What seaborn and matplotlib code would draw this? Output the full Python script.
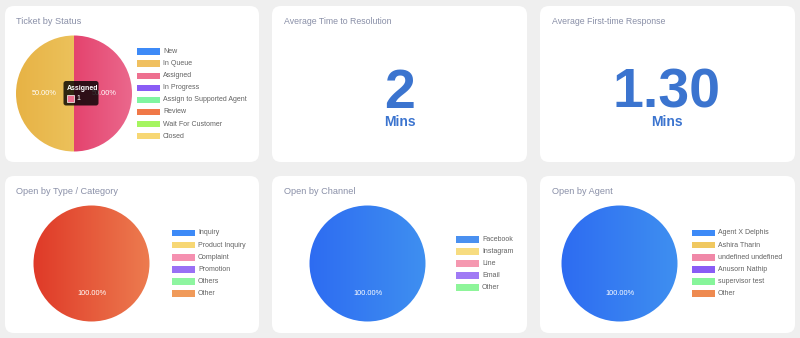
import numpy as np
import matplotlib
matplotlib.use("Agg")
import matplotlib.pyplot as plt
import seaborn as sns
from matplotlib.patches import FancyBboxPatch, Rectangle
from matplotlib.colors import LinearSegmentedColormap

# ---------------- data ----------------
status_labels = ["New", "In Queue", "Assigned", "In Progress", "Assign to Supported Agent",
                 "Review", "Wait For Customer", "Closed"]
status_values = [0, 1, 1, 0, 0, 0, 0, 0]

type_labels = ["Inquiry", "Product Inquiry", "Complaint", "Promotion", "Others", "Other"]
type_values = [0, 0, 0, 0, 0, 1]

channel_labels = ["Facebook", "Instagram", "Line", "Email", "Other"]
channel_values = [1, 0, 0, 0, 0]

agent_labels = ["Agent X Delphis", "Ashira Tharin", "undefined undefined", "Anusorn Nathip",
                "supervisor test", "Other"]
agent_values = [1, 0, 0, 0, 0, 0]

resolution_value = "2"
first_response_value = "1.30"
unit_label = "Mins"

tooltip_title = "Assigned"
tooltip_value = "1"

# ---------------- styles ----------------
status_colors = ["#3d8af7", "#f0c060", "#ee7090", "#8a5cf5", "#80f5a0", "#f07848", "#a5f560", "#f7d774"]
type_colors = ["#3d8af7", "#f7d774", "#f590b0", "#9a70f5", "#8ef5a0", "#f09a5a"]
channel_colors = ["#4a90f0", "#f7dc80", "#f598b0", "#a07af5", "#8ef59a"]
agent_colors = ["#3d8af7", "#f0c860", "#f088a8", "#8a5cf5", "#86f59a", "#ee8a50"]

# gradient (left colour, right colour) per non-empty slice
status_grad = {1: ("#e7b244", "#ecc25c"), 2: ("#e4426d", "#eb6a8e")}
type_grad = {5: ("#df3827", "#ed7d50")}
channel_grad = {0: ("#2d6bf2", "#3f90f0")}
agent_grad = {0: ("#2d6bf2", "#3f90f0")}

sns.set_theme(style="white")
plt.rcParams['font.family'] = ['Liberation Sans', 'DejaVu Sans']

W, H = 800, 338
fig = plt.figure(figsize=(8, 3.38), dpi=100)
fig.patch.set_facecolor("#efefef")

bg = fig.add_axes([0, 0, 1, 1])
bg.set_xlim(0, W)
bg.set_ylim(H, 0)
bg.axis("off")

TITLE_C = "#8a90a8"
LEG_C = "#626262"
BIG_C = "#3b74cf"

cards = [(5, 6, 254, 156), (272, 6, 255, 156), (540, 6, 255, 156),
         (5, 176, 254, 157), (272, 176, 255, 157), (540, 176, 255, 157)]
for (x, y, w, h) in cards:
    bg.add_patch(FancyBboxPatch((x, y), w, h, boxstyle="round,pad=0,rounding_size=9",
                                facecolor="white", edgecolor="none"))

titles = [(16, 22, "Ticket by Status", 6.6), (284, 22, "Average Time to Resolution", 6.3),
          (552, 22, "Average First-time Response", 6.3), (16, 192, "Open by Type / Category", 6.6),
          (284, 192, "Open by Channel", 6.6), (552, 192, "Open by Agent", 6.6)]
for (x, y, t, fs) in titles:
    bg.text(x, y, t, fontsize=fs, color=TITLE_C, ha="left", va="center")

# big numbers
for cx, val in [(400, resolution_value), (667, first_response_value)]:
    bg.text(cx, 108, val, fontsize=40, fontweight="bold", color=BIG_C, ha="center", va="baseline")
    bg.text(cx, 122, unit_label, fontsize=10, fontweight="bold", color=BIG_C, ha="center", va="center")


def legend(x, y0, labels, colors, step=12.1):
    pal = sns.color_palette(colors)
    for i, (lab, c) in enumerate(zip(labels, pal)):
        y = y0 + i * step
        bg.add_patch(Rectangle((x, y - 3.3), 23, 6.6, facecolor=c, edgecolor="none"))
        bg.text(x + 26, y, lab, fontsize=5.0, color=LEG_C, ha="left", va="center")


PAD = 1.06


def pie(cx, cy, r, values, colors, grads):
    R = r * PAD
    ax = fig.add_axes([(cx - R) / W, 1 - (cy + R) / H, 2 * R / W, 2 * R / H])
    ax.set_facecolor("none")
    pal = sns.color_palette(colors)
    wedges, texts, autotexts = ax.pie(
        values, colors=pal, startangle=90, counterclock=True, radius=1,
        autopct=lambda p: f"{p:.2f}%" if p > 0 else "", pctdistance=0.52,
        textprops=dict(color="white", fontsize=5.3))
    for i, wdg in enumerate(wedges):
        if i in grads:
            c0, c1 = grads[i]
            ext = wdg.get_path().get_extents()
            cmap = LinearSegmentedColormap.from_list(f"g{i}", [c0, c1])
            im = ax.imshow(np.linspace(0, 1, 256).reshape(1, -1), cmap=cmap,
                           extent=[ext.x0 - 0.04, ext.x1 + 0.04, ext.y0 - 0.04, ext.y1 + 0.04],
                           aspect="auto", zorder=1, interpolation="bilinear")
            im.set_clip_path(wdg)
            wdg.set_facecolor("none")
    for t in autotexts:
        t.set_zorder(5)
    ax.set_xlim(-PAD, PAD)
    ax.set_ylim(-PAD, PAD)
    ax.set_aspect("equal")
    ax.axis("off")
    return ax


pie(74, 93.5, 58, status_values, status_colors, status_grad)
legend(137, 51.7, status_labels, status_colors, step=12.05)

pie(91.5, 263.5, 58, type_values, type_colors, type_grad)
legend(172, 233, type_labels, type_colors)

pie(367.5, 263.5, 58, channel_values, channel_colors, channel_grad)
legend(456, 239.3, channel_labels, channel_colors)

pie(619.5, 263.5, 58, agent_values, agent_colors, agent_grad)
legend(692, 233, agent_labels, agent_colors)

# tooltip overlay
ov = fig.add_axes([0, 0, 1, 1])
ov.set_xlim(0, W)
ov.set_ylim(H, 0)
ov.axis("off")
ov.set_facecolor("none")
ov.add_patch(FancyBboxPatch((63.5, 81), 35, 24.5, boxstyle="round,pad=0,rounding_size=2.5",
                            facecolor="black", alpha=0.8, edgecolor="none"))
ov.text(67, 88, tooltip_title, fontsize=5.0, fontweight="bold", color="white", ha="left", va="center")
ov.add_patch(Rectangle((67, 95), 6.5, 6.5, facecolor=status_colors[2], edgecolor="white", linewidth=0.5))
ov.text(76, 98.5, tooltip_value, fontsize=5.0, color="white", ha="left", va="center")

fig.savefig("out.png", dpi=100, facecolor=fig.get_facecolor())
